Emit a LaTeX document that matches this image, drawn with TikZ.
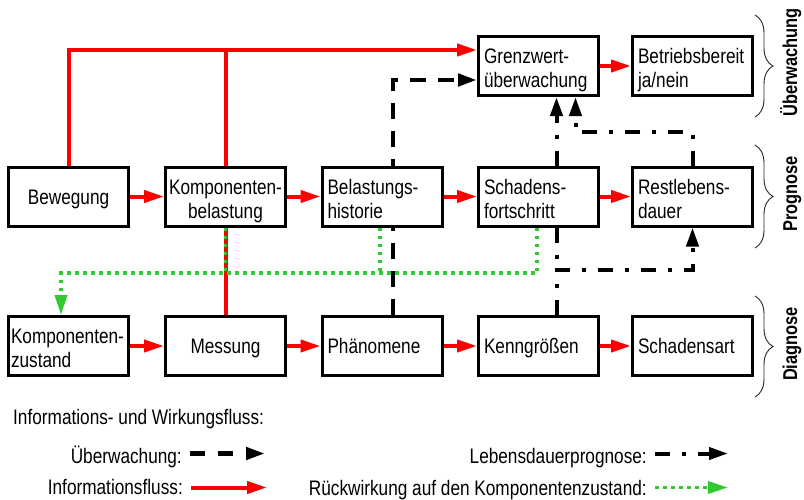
\documentclass[tikz,border=0pt]{standalone}
\usepackage{fontspec}
\setmainfont{Liberation Sans}[FakeStretch=0.82]
\usetikzlibrary{arrows.meta,calc,backgrounds,decorations.pathreplacing}
\definecolor{flowred}{RGB}{255,0,0}
\definecolor{flowgreen}{RGB}{50,200,50}
\begin{document}
\begin{tikzpicture}[x=1pt,y=-1pt,
  font=\fontsize{21}{24}\selectfont,
  stage/.style={draw=black, line width=3pt, fill=white, rectangle,
    minimum width=120pt, minimum height=59pt, inner xsep=5.5pt, inner ysep=0pt,
    text width=109pt, align=left},
  wide/.style={inner xsep=2.5pt, text width=115pt},
  oneline/.style={text height=15pt, text depth=0pt},
  twoline/.style={text height=15pt, text depth=20pt},
  centred/.style={align=center},
  info/.style={draw=flowred, line width=4pt},
  infoarrow/.style={info, -{Triangle[length=20pt,width=12pt]}},
  monitor/.style={draw=black, line width=4.5pt, dash pattern=on 16pt off 12pt,
    -{Triangle[length=19pt,width=12pt]}},
  life/.style={draw=black, line width=4pt, dash pattern=on 15pt off 12pt on 4pt off 12pt},
  lifearrow/.style={life, -{Triangle[length=19pt,width=12pt]}},
  feedback/.style={draw=flowgreen, line width=3.5pt, dash pattern=on 3.5pt off 4.5pt},
  feedbackarrow/.style={feedback, -{Triangle[length=20pt,width=12pt]}},
  group/.style={draw=black!85, line width=0.9pt, decorate,
    decoration={brace, amplitude=18pt}},
  side/.style={rotate=90, anchor=base, inner sep=0pt,
    font=\fontsize{20}{24}\selectfont\bfseries},
  legendtext/.style={inner sep=0pt},
]
\useasboundingbox (0,0) rectangle (804,499);

% ---- stages: monitoring row, prognosis row, diagnosis row ----
\node[stage, twoline] (grenz) at (538.5,66) {Grenzwert-\\überwachung};
\node[stage, twoline] (betrieb) at (692.5,66) {Betriebsbereit\\ja/nein};

\node[stage, oneline, centred] (beweg) at (68.5,196.5) {Bewegung};
\node[stage, twoline, wide, centred] (kbel) at (225.5,196.5) {Komponenten-\\belastung};
\node[stage, twoline] (bhist) at (382,196.5) {Belastungs-\\historie};
\node[stage, twoline] (sfort) at (538.5,196.5) {Schadens-\\fortschritt};
\node[stage, twoline] (rest) at (692.5,196.5) {Restlebens-\\dauer};

\node[stage, twoline, wide] (kzust) at (68.5,346) {Komponenten-\\zustand};
\node[stage, oneline, centred] (mess) at (225.5,346) {Messung};
\node[stage, oneline] (phaen) at (382,346) {Phänomene};
\node[stage, oneline] (kenn) at (538.5,346) {Kenngrößen};
\node[stage, oneline] (sart) at (692.5,346) {Schadensart};

% ---- connectors, kept behind the boxes ----
\begin{scope}[on background layer]
  \fill[white] (0,0) rectangle (804,499);

  % information flow
  \coordinate (redin) at ($(grenz.west)+(0,-16)$);
  \draw[infoarrow] (beweg.north) |- (redin);
  \draw[info] (kbel.north) -- (kbel.north |- redin);
  \draw[info] (kbel.south) -- (mess.north);
  \foreach \a/\b in {grenz/betrieb, beweg/kbel, kbel/bhist, bhist/sfort, sfort/rest,
                     kzust/mess, mess/phaen, phaen/kenn, kenn/sart}
    \draw[infoarrow] (\a.east) -- (\b.west);

  % monitoring
  \coordinate (phup) at ($(phaen.north)+(11,0)$);
  \coordinate (dashin) at ($(grenz.west)+(0,14)$);
  \draw[monitor] (phup) |- (dashin);

  % lifetime prognosis
  \coordinate (kup) at ($(kenn.north)+(18.5,0)$);
  \coordinate (knot) at ($(kenn.north)+(18.5,-45)$);
  \draw[lifearrow] (kup) -- (knot) -| (rest.south);
  \coordinate (sdown) at ($(sfort.south)+(18.5,0)$);
  \draw[life] (sdown) -- (knot);
  \coordinate (sup) at ($(sfort.north)+(18,0)$);
  \draw[lifearrow] (sup) -- (sup |- grenz.south);
  \coordinate (rbend) at ($(grenz.south)+(37,35)$);
  \draw[lifearrow] (rest.north) |- (rbend) -- (rbend |- grenz.south);

  % feedback on the component state
  \coordinate (gk) at ($(kzust.north)+(-7.5,-42)$);
  \coordinate (sgreen) at ($(sfort.south)+(-1.5,0)$);
  \draw[feedbackarrow] (sgreen) |- (gk) -- (gk |- kzust.north);
  \coordinate (bgreen) at ($(bhist.south)+(-2,0)$);
  \draw[feedback] (bgreen) -- (bgreen |- gk);
  \draw[feedback] (kbel.south) -- (kbel.south |- gk);
\end{scope}

% ---- braces and row labels ----
\draw[group] (755,15) -- (755,117);
\draw[group] (755,145) -- (755,248);
\draw[group] (755,296) -- (755,397);
\node[side] (lbu) at (797,62.5) {Überwachung};
\node[side] (lbp) at (797,194) {Prognose};
\node[side] (lbd) at (797,344) {Diagnose};

% ---- legend ----
\node[legendtext, anchor=base west] (lgt) at (13,424) {Informations- und Wirkungsfluss:};
\node[legendtext, anchor=base east] (lgm) at (182,463) {Überwachung:};
\node[legendtext, anchor=base east] (lgi) at (183,494) {Informationsfluss:};
\node[legendtext, anchor=base east] (lgl) at (647,463) {Lebensdauerprognose:};
\node[legendtext, anchor=base east] (lgr) at (647,495) {Rückwirkung auf den Komponentenzustand:};

\coordinate (m1) at (190,453.5); \coordinate (m2) at (265,453.5);
\draw[monitor, dash pattern=on 15pt off 13pt] (m1) -- (m2);
\coordinate (i1) at (191,487.5); \coordinate (i2) at (267,487.5);
\draw[infoarrow] (i1) -- (i2);
\coordinate (l1) at (655,453.5); \coordinate (l2) at (728,453.5);
\draw[lifearrow] (l1) -- (l2);
\coordinate (f1) at (655,487.5); \coordinate (f2) at (728,487.5);
\draw[feedbackarrow] (f1) -- (f2);
\end{tikzpicture}
\end{document}
